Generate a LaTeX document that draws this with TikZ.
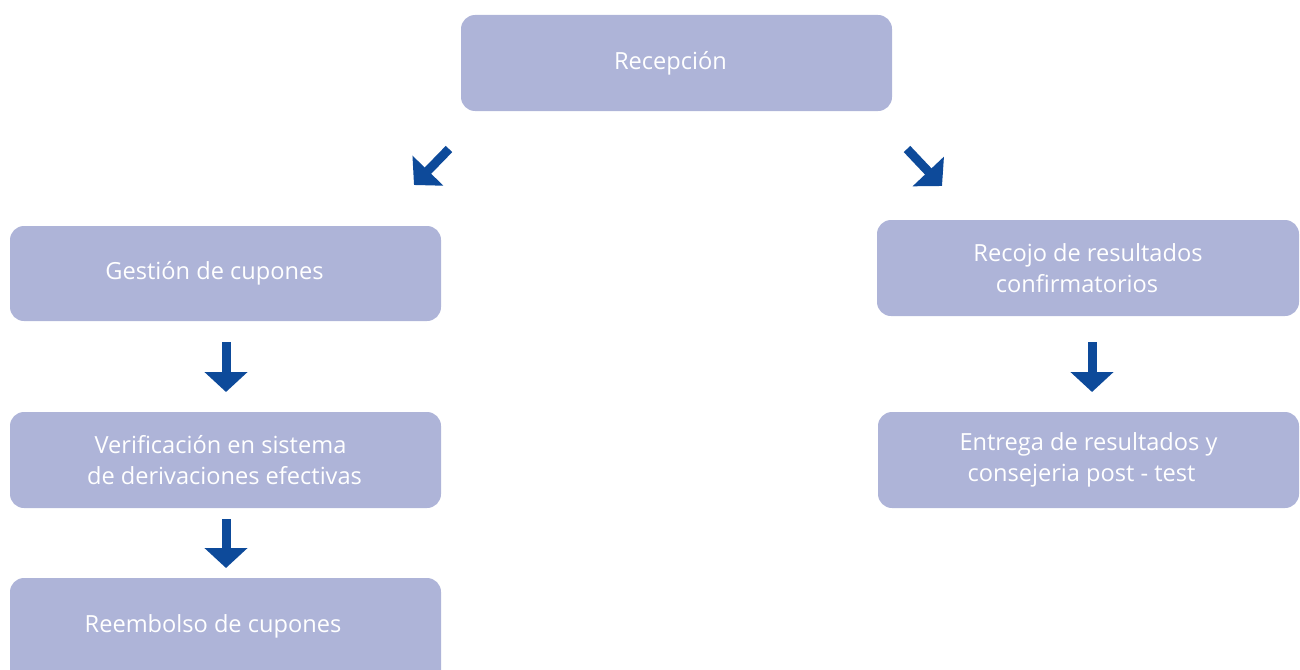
\documentclass[tikz,border=0pt]{standalone}
\usepackage{fontspec}
\setmainfont{Open Sans}
\usetikzlibrary{arrows.meta}
\definecolor{boxfill}{HTML}{AEB4D8}
\definecolor{arrowblue}{HTML}{0D4A9A}
\begin{document}
\begin{tikzpicture}[x=1pt,y=-1pt,
  lbl/.style={text=white, font=\fontsize{23.6}{31}\selectfont, align=center, inner sep=0pt},
  box/.style={fill=boxfill, rounded corners=14pt, lbl},
  blockarrow/.style={arrowblue, line width=9pt, -{Triangle[width=42pt,length=20pt]}}]
\useasboundingbox (0,0) rectangle (1300,669);
% boxes
\node[box, minimum width=431pt, minimum height=96pt] (rec) at (676.5,63) {\hspace*{-12pt}Recepción};
\node[box, minimum width=431pt, minimum height=95pt] (ges) at (225.5,273.5) {\hspace*{-22pt}Gestión de cupones};
\node[box, minimum width=431pt, minimum height=96pt] (ver) at (225.5,460) {\hspace*{-10pt}Verificación en sistema\\\hspace*{-2pt}de derivaciones efectivas};
\node[box, minimum width=431pt, minimum height=120pt] (ree) at (225.5,638) {};
\node[lbl] (reet) at (213,626) {Reembolso de cupones};
\node[box, minimum width=422pt, minimum height=96pt] (rco) at (1088,268) {Recojo de resultados\\\hspace*{-22pt}confirmatorios};
\node[box, minimum width=421pt, minimum height=96pt] (ent) at (1088.5,460) {Entrega de resultados y\\\hspace*{-14pt}consejeria post - test};
% arrows
\coordinate (a1s) at (449,149); \coordinate (a1e) at (414,185);
\coordinate (a2s) at (907,149); \coordinate (a2e) at (942,186);
\coordinate (a3s) at (226,342); \coordinate (a3e) at (226,392);
\coordinate (a4s) at (226,519); \coordinate (a4e) at (226,568);
\coordinate (a5s) at (1092,342); \coordinate (a5e) at (1092,392);
\draw[blockarrow] (a1s) -- (a1e);
\draw[blockarrow] (a2s) -- (a2e);
\draw[blockarrow] (a3s) -- (a3e);
\draw[blockarrow] (a4s) -- (a4e);
\draw[blockarrow] (a5s) -- (a5e);
\end{tikzpicture}
\end{document}
